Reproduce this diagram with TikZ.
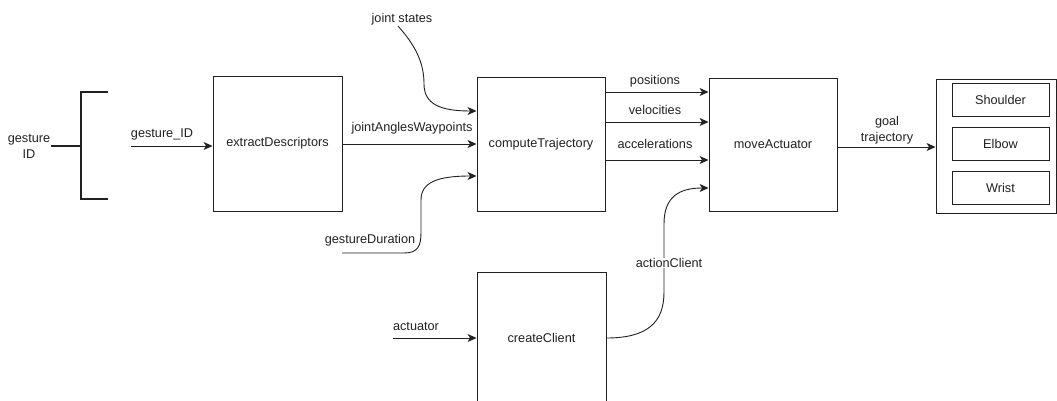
\documentclass[tikz,border=0pt]{standalone}
\usepackage{fontspec}
\setmainfont{Liberation Sans}
\usetikzlibrary{arrows.meta,calc}
\definecolor{ink}{RGB}{33,33,33}
\begin{document}
\begin{tikzpicture}[x=1pt,y=-1pt,
  font=\fontsize{12.7}{16}\selectfont,
  every node/.style={text=ink},
  block/.style={draw=ink,line width=0.9pt,inner sep=0pt,fill=white},
  joint/.style={block,minimum width=97pt,minimum height=33pt},
  lbl/.style={inner sep=1pt},
  flow/.style={draw=ink,line width=0.9pt,-{Stealth[length=9pt,width=8pt,inset=2.5pt]}},
  wire/.style={draw=ink,line width=0.9pt},
  bracket/.style={draw=ink,line width=2pt}]
\useasboundingbox (0,0) rectangle (1057,401);
\clip (0,0) rectangle (1057,401);

% processing blocks
\node[block,minimum width=129pt,minimum height=135pt] (extract) at (277.5,143.5) {extractDescriptors};
\node[block,minimum width=128pt,minimum height=134pt] (comp) at (541,144) {computeTrajectory};
\node[block,minimum width=128pt,minimum height=133pt] (move) at (773,144.5) {moveActuator};
\node[block,minimum width=129pt,minimum height=132pt] (client) at (541.5,338) {createClient};

% arm joints
\node[block,minimum width=120pt,minimum height=134pt] (arm) at (996,146) {};
\node[joint] (shoulder) at (1000.5,99.5) {Shoulder};
\node[joint] (elbow) at (1000.5,143.5) {Elbow};
\node[joint] (wrist) at (1000.5,187.5) {Wrist};

% gesture input and its bracket
\node[lbl,align=center] (gid) at (29,146) {gesture\\ID};
\coordinate (br) at (81,146);
\coordinate (brtop) at (108,92);
\coordinate (brbot) at (108,199);
\draw[bracket] (gid.east) -- (br);
\draw[bracket] (brtop) -- (81,92) -- (81,199) -- (brbot);

\coordinate (gidin) at (131,146);
\draw[flow] (gidin) -- (extract.west |- gidin);
\node[lbl] (lgid) at (162,134) {gesture\_ID};

% inputs of computeTrajectory
\node[lbl] (js) at (402,19) {joint states};
\draw[flow] ([xshift=-4pt]js.south) .. controls (418,48) and (424,66) .. (424,84)
  .. controls (424,104) and (440,111) .. (comp.west |- 0,111);

\draw[flow] (extract.east |- 0,144) -- (comp.west |- 0,144);
\node[lbl] (ljw) at (412,128) {jointAnglesWaypoints};

\node[lbl] (gd) at (370,240) {gestureDuration};
\coordinate (gdstart) at (342,253);
\draw[flow] (gdstart) -- (404,253) .. controls (418,253) and (421,246) .. (421,232)
  -- (421,200) .. controls (421,182) and (438,176) .. (comp.west |- 0,176);

% outputs of computeTrajectory
\draw[flow] (comp.east |- 0,92) -- (move.west |- 0,92);
\node[lbl] (lpos) at (655,81) {positions};
\draw[flow] (comp.east |- 0,122) -- (move.west |- 0,122);
\node[lbl] (lvel) at (655,110) {velocities};
\draw[flow] (comp.east |- 0,160) -- (move.west |- 0,160);
\node[lbl] (lacc) at (655,144) {accelerations};

% action client
\coordinate (act) at (393,338);
\draw[flow] (act) -- (client.west);
\node[lbl] (lact) at (416,326) {actuator};
\draw[flow] (client.east) .. controls (648,338) and (664,322) .. (664,292)
  -- (664,224) .. controls (664,196) and (680,188) .. (move.west |- 0,188);
\node[lbl,fill=white,inner sep=0.5pt] (lac) at (669,263) {actionClient};

% goal trajectory
\draw[flow] (move.east |- 0,147) -- (arm.west |- 0,147);
\node[lbl,align=center] (lgoal) at (887,130) {goal\\trajectory};
\end{tikzpicture}
\end{document}
